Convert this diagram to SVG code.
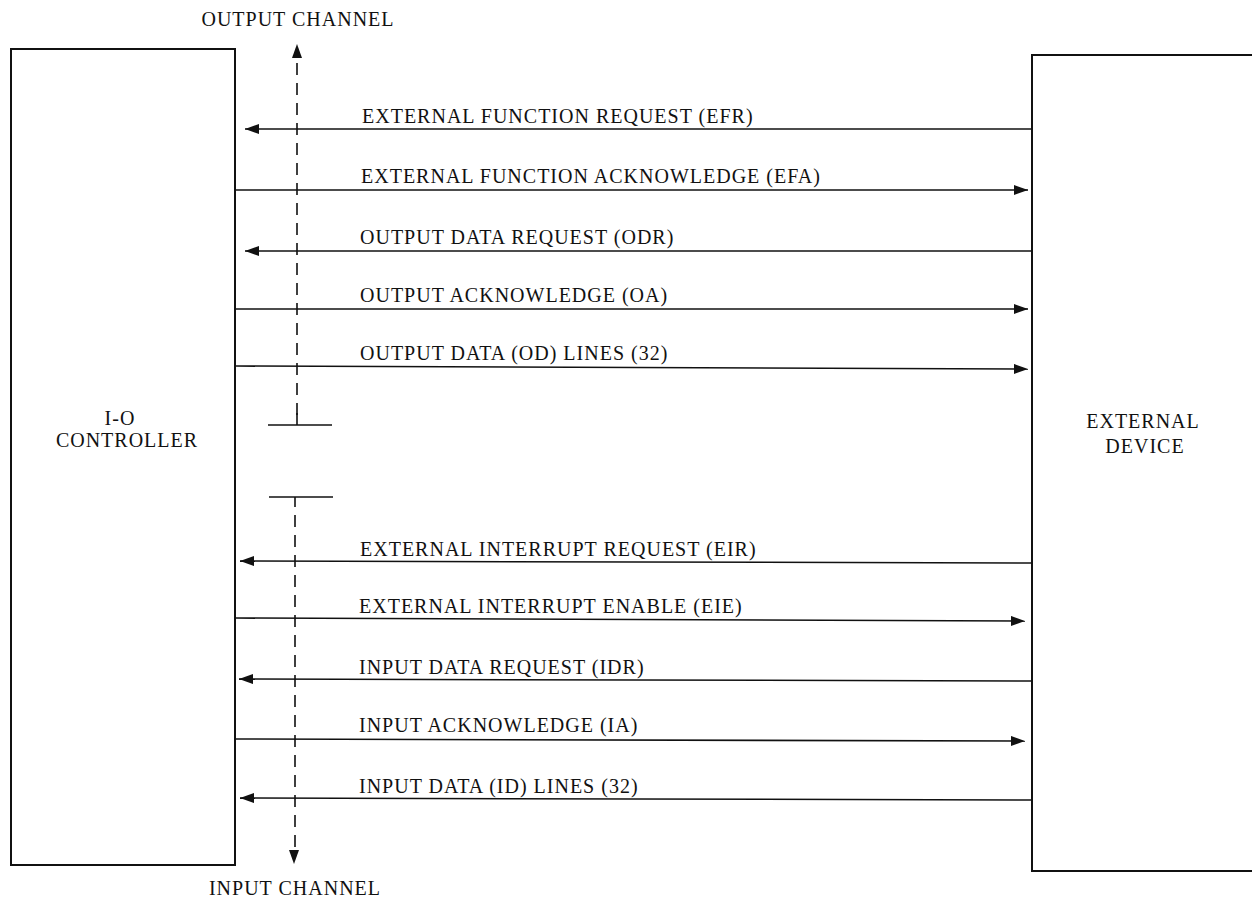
<svg xmlns="http://www.w3.org/2000/svg" width="1252" height="901" viewBox="0 0 1252 901">
<style>
text{font-family:"Liberation Serif","Times New Roman",serif;font-size:20px;letter-spacing:1px;fill:#111}
.box{fill:none;stroke:#111;stroke-width:2}
.ln{stroke:#111;stroke-width:1.6;fill:none}
.dash{stroke:#111;stroke-width:1.6;stroke-dasharray:12,8;fill:none}
</style>
<defs>
<marker id="ah" viewBox="0 0 14 10" refX="14" refY="5" markerWidth="14" markerHeight="10" markerUnits="userSpaceOnUse" orient="auto"><path d="M0,0 L14,5 L0,10 Z" fill="#111"/></marker>
</defs>
<rect width="1252" height="901" fill="#fff"/>
<g id="io-controller">
<rect class="box" x="11" y="49" width="224" height="816"/>
<text x="120" y="425" text-anchor="middle">I-O</text>
<text x="127" y="447" text-anchor="middle">CONTROLLER</text>
</g>
<g id="external-device">
<rect class="box" x="1032" y="55" width="230" height="816"/>
<text x="1143" y="428" text-anchor="middle">EXTERNAL</text>
<text x="1145" y="453" text-anchor="middle">DEVICE</text>
</g>
<g id="channel">
<text x="298" y="26" text-anchor="middle">OUTPUT CHANNEL</text>
<text x="295" y="895" text-anchor="middle">INPUT CHANNEL</text>
<line class="dash" x1="297" y1="415" x2="297" y2="60"/>
<path d="M297,44 L292,58 L302,58 Z" fill="#111"/>
<line class="ln" x1="297" y1="413" x2="297" y2="425"/>
<line class="ln" x1="268" y1="425" x2="332" y2="425"/>
<line class="ln" x1="269" y1="497" x2="333" y2="497"/>
<line class="ln" x1="295" y1="497" x2="295" y2="507"/>
<line class="dash" x1="295" y1="515" x2="295" y2="850"/>
<path d="M294,864 L289,850 L299,850 Z" fill="#111"/>
</g>
<g id="connectors">
<line class="ln" x1="1032" y1="129" x2="245" y2="129" marker-end="url(#ah)"/>
<line class="ln" x1="236" y1="190" x2="1028" y2="190" marker-end="url(#ah)"/>
<line class="ln" x1="1032" y1="251" x2="245" y2="251" marker-end="url(#ah)"/>
<line class="ln" x1="236" y1="309" x2="1028" y2="309" marker-end="url(#ah)"/>
<line class="ln" x1="236" y1="366" x2="1028" y2="369" marker-end="url(#ah)"/>
<line class="ln" x1="1032" y1="563" x2="240" y2="561" marker-end="url(#ah)"/>
<line class="ln" x1="235" y1="618" x2="1025" y2="621" marker-end="url(#ah)"/>
<line class="ln" x1="1032" y1="681" x2="239" y2="679" marker-end="url(#ah)"/>
<line class="ln" x1="234" y1="739" x2="1025" y2="741" marker-end="url(#ah)"/>
<line class="ln" x1="1032" y1="800" x2="240" y2="798" marker-end="url(#ah)"/>
<text x="362" y="123">EXTERNAL FUNCTION REQUEST (EFR)</text>
<text x="361" y="183">EXTERNAL FUNCTION ACKNOWLEDGE (EFA)</text>
<text x="360" y="244">OUTPUT DATA REQUEST (ODR)</text>
<text x="360" y="302">OUTPUT ACKNOWLEDGE (OA)</text>
<text x="360" y="360">OUTPUT DATA (OD) LINES (32)</text>
<text x="360" y="556">EXTERNAL INTERRUPT REQUEST (EIR)</text>
<text x="359" y="613">EXTERNAL INTERRUPT ENABLE (EIE)</text>
<text x="359" y="674">INPUT DATA REQUEST (IDR)</text>
<text x="359" y="732">INPUT ACKNOWLEDGE (IA)</text>
<text x="359" y="793">INPUT DATA (ID) LINES (32)</text>
</g>
</svg>
